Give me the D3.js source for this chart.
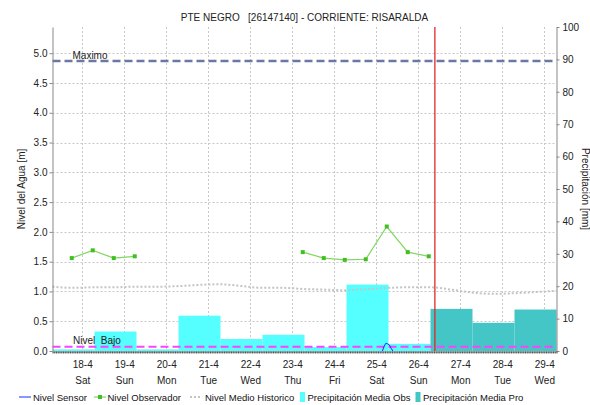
<!DOCTYPE html>
<html>
<head>
<meta charset="utf-8">
<script src="https://cdn.jsdelivr.net/npm/d3@7"></script>
<style>
  html, body { margin: 0; padding: 0; background: #fff; }
  svg { display: block; font-family: "Liberation Sans", Arial, sans-serif; }
  text { white-space: pre; }
</style>
</head>
<body>
<svg id="chart" width="590" height="405"></svg>
<script>
// ---- station data ----
const titleText = "PTE NEGRO   [26147140] - CORRIENTE: RISARALDA";
const dayTicks = ["2020-04-18","2020-04-19","2020-04-20","2020-04-21","2020-04-22","2020-04-23",
                  "2020-04-24","2020-04-25","2020-04-26","2020-04-27","2020-04-28","2020-04-29"];
const dayNames = ["Sun","Mon","Tue","Wed","Thu","Fri","Sat"];
const levelTicks = [0, 0.5, 1.0, 1.5, 2.0, 2.5, 3.0, 3.5, 4.0, 4.5, 5.0];
const rainTicks = [0, 10, 20, 30, 40, 50, 60, 70, 80, 90, 100];

// daily rainfall (07:00 to 07:00), observed and forecast, mm
const obsStart = ["2020-04-17","2020-04-18","2020-04-19","2020-04-20","2020-04-21",
                  "2020-04-22","2020-04-23","2020-04-24","2020-04-25"];
const obsRain  = [0.5, 6.0, 0.5, 10.9, 3.7, 5.0, 1.2, 20.5, 2.2];
const proStart = ["2020-04-26","2020-04-27","2020-04-28"];
const proRain  = [13.0, 8.7, 12.8];

// observer readings, m (null = no reading)
const obsTimes  = ["2020-04-17T18:00","2020-04-18T06:00","2020-04-18T18:00","2020-04-19T06:00",
                   "2020-04-21T06:00",
                   "2020-04-23T06:00","2020-04-23T18:00","2020-04-24T06:00","2020-04-24T18:00",
                   "2020-04-25T06:00","2020-04-25T18:00","2020-04-26T06:00"];
const obsLevel  = [1.56, 1.69, 1.56, 1.59, null, 1.66, 1.56, 1.53, 1.54, 2.09, 1.66, 1.59];

// sensor readings, m
const sensorTimes = ["2020-04-25T03:30","2020-04-25T04:30","2020-04-25T05:30","2020-04-25T06:30",
                     "2020-04-25T07:30","2020-04-25T08:30","2020-04-25T09:30"];
const sensorLevel = [0.0, 0.08, 0.13, 0.12, 0.10, 0.045, 0.0];

// historic mean level, every 12 h from 17-4 07:00, m
const histLevel = [1.08, 1.06, 1.07, 1.07, 1.08, 1.08, 1.09, 1.11, 1.12, 1.09, 1.06, 1.06, 1.04,
                   1.03, 1.02, 1.04, 1.06, 1.07, 1.07, 1.03, 0.98, 0.96, 0.97, 0.99, 1.01];

// thresholds, m
const levelMax = 4.87;
const levelLow = 0.07;
const nowTime = "2020-04-26T09:30";

// ---- layout ----
const M = { left: 52.5, right: 556.5, top: 27, bottom: 351 };
const svg = d3.select("#chart");
const T = s => new Date(s.length === 10 ? s + "T00:00Z" : s + ":00Z");
const addHours = (d, h) => new Date(d.getTime() + h * 3600e3);

const x = d3.scaleUtc()
  .domain([T("2020-04-17T07:00"), T("2020-04-29T07:00")])
  .range([M.left, M.right]);
const yL = d3.scaleLinear().domain([0, 5.44]).range([M.bottom, M.top]);
const yR = d3.scaleLinear().domain([0, 100]).range([M.bottom, M.top]);

const histTimes = histLevel.map((_, i) => addHours(T("2020-04-17T07:00"), 12 * i));

// grid
const grid = svg.append("g").attr("stroke", "#c8c8c8").attr("stroke-dasharray", "2,2").attr("stroke-width", 1);
grid.selectAll("line.h").data(levelTicks.slice(1)).join("line")
  .attr("x1", M.left).attr("x2", M.right)
  .attr("y1", d => Math.round(yL(d)) + 0.5).attr("y2", d => Math.round(yL(d)) + 0.5);
grid.selectAll("line.v").data(dayTicks).join("line")
  .attr("y1", M.top).attr("y2", M.bottom)
  .attr("x1", d => Math.round(x(T(d))) + 0.5).attr("x2", d => Math.round(x(T(d))) + 0.5);

// rainfall bars
function bars(starts, vals, fill) {
  svg.append("g").selectAll("rect").data(vals).join("rect")
    .attr("x", (d, i) => x(addHours(T(starts[i]), 7)))
    .attr("width", (d, i) => x(addHours(T(starts[i]), 31)) - x(addHours(T(starts[i]), 7)))
    .attr("y", d => yR(d))
    .attr("height", d => yR(0) - yR(d))
    .attr("fill", fill);
}
bars(obsStart, obsRain, "#55ffff");
bars(proStart, proRain, "#44c6c6");

// historic mean level
svg.append("path")
  .datum(histLevel)
  .attr("fill", "none").attr("stroke", "#c4c4c4").attr("stroke-width", 2)
  .attr("stroke-dasharray", "2,2")
  .attr("d", d3.line().x((d, i) => x(histTimes[i])).y(d => yL(d)).curve(d3.curveMonotoneX));

// thresholds
svg.append("line")
  .attr("x1", M.left).attr("x2", M.right).attr("y1", yL(levelMax)).attr("y2", yL(levelMax))
  .attr("stroke", "#6a78a4").attr("stroke-width", 2.5).attr("stroke-dasharray", "8,4");
svg.append("text").attr("x", 72.5).attr("y", yL(levelMax) - 1.5)
  .attr("font-size", 10).attr("fill", "#222").text("Maximo");
svg.append("line")
  .attr("x1", M.left).attr("x2", M.right).attr("y1", yL(levelLow)).attr("y2", yL(levelLow))
  .attr("stroke", "#ff40ff").attr("stroke-width", 2).attr("stroke-dasharray", "8,4");
svg.append("text").attr("x", 73).attr("y", yL(levelLow) - 2.5)
  .attr("font-size", 10).attr("fill", "#222").text("Nivel  Bajo");

// sensor level
svg.append("path")
  .datum(sensorLevel)
  .attr("fill", "none").attr("stroke", "#1030ff").attr("stroke-width", 1)
  .attr("d", d3.line().x((d, i) => x(T(sensorTimes[i]))).y(d => yL(d)));

// observer level
const obsPts = obsLevel.map((v, i) => ({ t: T(obsTimes[i]), v }));
svg.append("path")
  .datum(obsPts)
  .attr("fill", "none").attr("stroke", "#80d860").attr("stroke-width", 1.2)
  .attr("d", d3.line().defined(d => d.v !== null).x(d => x(d.t)).y(d => yL(d.v)));
svg.append("g").selectAll("rect").data(obsPts.filter(d => d.v !== null)).join("rect")
  .attr("x", d => x(d.t) - 2).attr("y", d => yL(d.v) - 2)
  .attr("width", 4).attr("height", 4).attr("fill", "#40c020");

// current time
svg.append("line")
  .attr("x1", x(T(nowTime))).attr("x2", x(T(nowTime)))
  .attr("y1", M.top).attr("y2", M.bottom)
  .attr("stroke", "#e02828").attr("stroke-width", 1.3);

// axes
const axisStyle = g => {
  g.selectAll("path.domain").attr("stroke", "#888");
  g.selectAll(".tick line").attr("stroke", "#888");
  g.selectAll("text").attr("fill", "#222").attr("font-size", 10)
    .attr("font-family", '"Liberation Sans", Arial, sans-serif');
};
svg.append("g").attr("transform", `translate(${M.left},0)`)
  .call(d3.axisLeft(yL).tickValues(levelTicks).tickFormat(d3.format(".1f")).tickSize(3).tickSizeOuter(0).tickPadding(2))
  .call(axisStyle);
svg.append("g").attr("transform", `translate(${M.right},0)`)
  .call(d3.axisRight(yR).tickValues(rainTicks).tickSize(3).tickSizeOuter(0).tickPadding(3))
  .call(axisStyle);

// bottom axis: hourly minor ticks
const xMinor = svg.append("g").attr("transform", `translate(0,${M.bottom + 0.5})`)
  .call(d3.axisBottom(x).ticks(d3.utcHour.every(1)).tickFormat("").tickSize(2).tickSizeOuter(0));
xMinor.select("path.domain").attr("stroke", "#666");
xMinor.selectAll(".tick line").attr("stroke", "#555");

const xMajor = svg.append("g").attr("transform", `translate(0,${M.bottom + 0.5})`)
  .call(d3.axisBottom(x).tickValues(dayTicks.map(T)).tickSize(0).tickPadding(9)
    .tickFormat(d3.utcFormat("%-d-%-m")));
xMajor.select("path.domain").remove();
xMajor.selectAll("text").attr("fill", "#222").attr("font-size", 10)
  .attr("font-family", '"Liberation Sans", Arial, sans-serif');
xMajor.selectAll(".tick").append("text")
  .attr("y", 25).attr("dy", "0.71em").attr("fill", "#222").attr("font-size", 10)
  .attr("font-family", '"Liberation Sans", Arial, sans-serif')
  .text(d => dayNames[d.getUTCDay()]);

// titles
svg.append("text").attr("x", (M.left + M.right) / 2).attr("y", 21)
  .attr("text-anchor", "middle").attr("font-size", 10).attr("fill", "#222").text(titleText);
svg.append("text").attr("transform", `translate(25,${(M.top + M.bottom) / 2}) rotate(-90)`)
  .attr("text-anchor", "middle").attr("font-size", 10).attr("fill", "#222").text("Nivel del Agua [m]");
svg.append("text").attr("transform", `translate(582,${(M.top + M.bottom) / 2}) rotate(90)`)
  .attr("text-anchor", "middle").attr("font-size", 10).attr("fill", "#222").text("Precipitación [mm]");

// legend
const lg = svg.append("g").attr("font-size", 9.5).attr("fill", "#111");
const ly = 397;
lg.append("line").attr("x1", 19).attr("x2", 31).attr("y1", ly).attr("y2", ly).attr("stroke", "#1030ff");
lg.append("text").attr("x", 33).attr("y", ly + 3.5).text("Nivel Sensor");
lg.append("line").attr("x1", 94).attr("x2", 106).attr("y1", ly).attr("y2", ly).attr("stroke", "#80d860").attr("stroke-width", 1.2);
lg.append("rect").attr("x", 98).attr("y", ly - 2).attr("width", 4).attr("height", 4).attr("fill", "#40c020");
lg.append("text").attr("x", 107.5).attr("y", ly + 3.5).text("Nivel Observador");
lg.append("line").attr("x1", 190).attr("x2", 202).attr("y1", ly).attr("y2", ly)
  .attr("stroke", "#c4c4c4").attr("stroke-width", 2).attr("stroke-dasharray", "2,2");
lg.append("text").attr("x", 205).attr("y", ly + 3.5).text("Nivel Medio Historico");
lg.append("rect").attr("x", 300).attr("y", ly - 5).attr("width", 5).attr("height", 10).attr("fill", "#55ffff");
lg.append("text").attr("x", 307.5).attr("y", ly + 3.5).text("Precipitación Media Obs");
lg.append("rect").attr("x", 415.5).attr("y", ly - 5).attr("width", 5).attr("height", 10).attr("fill", "#44c6c6");
lg.append("text").attr("x", 423).attr("y", ly + 3.5).text("Precipitación Media Pro");
</script>
</body>
</html>
